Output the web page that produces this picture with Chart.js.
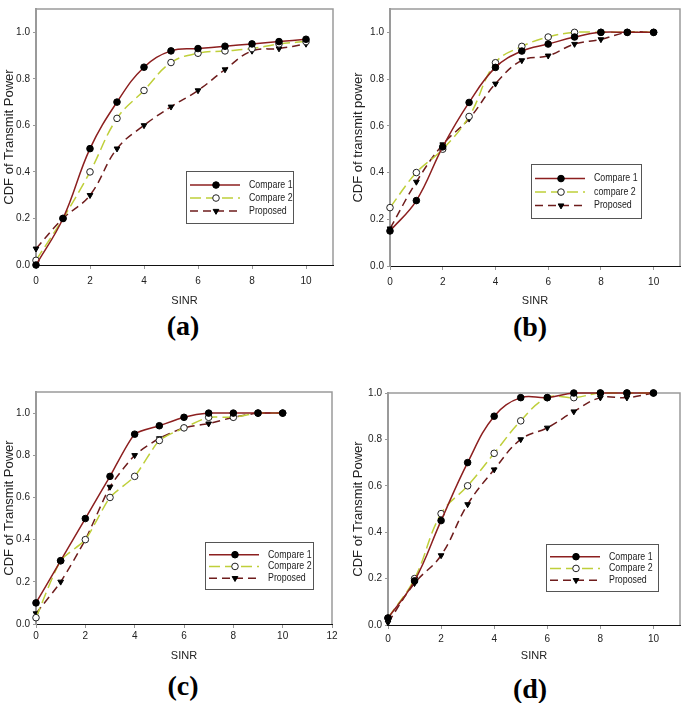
<!DOCTYPE html>
<html>
<head>
<meta charset="utf-8">
<script src="https://cdn.jsdelivr.net/npm/chart.js@4"></script>
<style>
body { margin: 0; background: #fff; width: 685px; height: 703px; position: relative; overflow: hidden; }
canvas { position: absolute; }
.cap { position: absolute; font: bold 28px 'Liberation Serif', 'Times New Roman', serif; color: #000; transform: translate(-50%, -50%); line-height: 1; }
</style>
</head>
<body>
<canvas id="ca" width="340" height="310" style="left:0;top:0"></canvas>
<canvas id="cb" width="340" height="310" style="left:345px;top:0"></canvas>
<canvas id="cc" width="340" height="305" style="left:0;top:360px"></canvas>
<canvas id="cd" width="340" height="305" style="left:345px;top:360px"></canvas>
<div class="cap" style="left:183px;top:326px">(a)</div>
<div class="cap" style="left:530px;top:327px">(b)</div>
<div class="cap" style="left:183px;top:686px">(c)</div>
<div class="cap" style="left:530px;top:689px">(d)</div>
<script>
// SINR points, same for all four panels
var sinr = [0, 1, 2, 3, 4, 5, 6, 7, 8, 9, 10];
var yTicks = [0, 0.2, 0.4, 0.6, 0.8, 1.0];
var xTicks10 = [0, 2, 4, 6, 8, 10];
var xTicks12 = [0, 2, 4, 6, 8, 10, 12];

// (a)
var a_compare1 = [0.00, 0.20, 0.50, 0.70, 0.85, 0.92, 0.93, 0.94, 0.95, 0.96, 0.97];
var a_compare2 = [0.02, 0.20, 0.40, 0.63, 0.75, 0.87, 0.91, 0.92, 0.93, 0.95, 0.96];
var a_proposed = [0.07, 0.20, 0.30, 0.50, 0.60, 0.68, 0.75, 0.84, 0.92, 0.93, 0.95];
// (b)
var b_compare1 = [0.15, 0.28, 0.51, 0.70, 0.85, 0.92, 0.95, 0.98, 1.00, 1.00, 1.00];
var b_compare2 = [0.25, 0.40, 0.50, 0.64, 0.87, 0.94, 0.98, 1.00, 1.00, 1.00, 1.00];
var b_proposed = [0.16, 0.36, 0.52, 0.63, 0.78, 0.88, 0.90, 0.95, 0.97, 1.00, 1.00];
// (c)
var c_compare1 = [0.10, 0.30, 0.50, 0.70, 0.90, 0.94, 0.98, 1.00, 1.00, 1.00, 1.00];
var c_compare2 = [0.03, 0.30, 0.40, 0.60, 0.70, 0.87, 0.93, 0.98, 0.98, 1.00, 1.00];
var c_proposed = [0.05, 0.20, 0.40, 0.65, 0.80, 0.88, 0.93, 0.95, 0.98, 1.00, 1.00];
// (d)
var d_compare1 = [0.03, 0.19, 0.45, 0.70, 0.90, 0.98, 0.98, 1.00, 1.00, 1.00, 1.00];
var d_compare2 = [0.03, 0.20, 0.48, 0.60, 0.74, 0.88, 0.98, 0.98, 1.00, 1.00, 1.00];
var d_proposed = [0.01, 0.18, 0.30, 0.52, 0.67, 0.80, 0.85, 0.92, 0.98, 0.98, 1.00];

var FONT = "'Liberation Sans', Arial, sans-serif";

function pts(vals) {
    return vals.map(function (v, i) { return { x: sinr[i], y: v }; });
}

// gray frame on top and right of the plot
var frame = {
    id: 'frame',
    beforeDatasetsDraw: function (chart) {
        var ctx = chart.ctx, a = chart.chartArea;
        ctx.save();
        ctx.strokeStyle = '#9a9a9a';
        ctx.lineWidth = 1.5;
        ctx.beginPath();
        ctx.moveTo(a.left, a.top);
        ctx.lineTo(a.right, a.top);
        ctx.lineTo(a.right, a.bottom);
        ctx.stroke();
        ctx.restore();
    }
};

// legend box drawn inside the plot, lower right
var boxLegend = {
    id: 'boxLegend',
    afterDatasetsDraw: function (chart, args, o) {
        var ctx = chart.ctx, a = chart.chartArea;
        var x0 = a.right - o.right - o.width, y0 = a.bottom - o.bottom - o.height;
        ctx.save();
        ctx.fillStyle = '#fff';
        ctx.fillRect(x0, y0, o.width, o.height);
        ctx.strokeStyle = '#555';
        ctx.lineWidth = 1;
        ctx.strokeRect(x0 + 0.5, y0 + 0.5, o.width, o.height);
        chart.data.datasets.forEach(function (ds, i) {
            var y = y0 + o.height * (0.27 + 0.25 * i);
            ctx.strokeStyle = ds.borderColor;
            ctx.lineWidth = ds.borderWidth;
            ctx.setLineDash(ds.borderDash || []);
            ctx.beginPath();
            ctx.moveTo(x0 + 4, y);
            ctx.lineTo(x0 + 54, y);
            ctx.stroke();
            ctx.setLineDash([]);
            ctx.fillStyle = ds.pointBackgroundColor;
            ctx.strokeStyle = ds.pointBorderColor;
            ctx.lineWidth = 1;
            Chart.helpers.drawPoint(ctx, { pointStyle: ds.pointStyle, rotation: ds.pointRotation || 0, radius: ds.pointRadius, borderWidth: 1 }, x0 + 30, y);
            // narrow text like the original
            ctx.save();
            ctx.translate(x0 + 63, y);
            ctx.scale(0.84, 1);
            ctx.fillStyle = '#222';
            ctx.font = '10.5px ' + FONT;
            ctx.textBaseline = 'middle';
            ctx.fillText(ds.label, 0, 0);
            ctx.restore();
        });
        ctx.restore();
    }
};

function makeChart(p) {
    var styles = [
        { borderColor: '#8c1f1f', borderDash: [], pointStyle: 'circle', pointRotation: 0, pointBackgroundColor: '#000', pointBorderColor: '#000' },
        { borderColor: '#bfcf3a', borderDash: [11, 5], pointStyle: 'circle', pointRotation: 0, pointBackgroundColor: '#fff', pointBorderColor: '#222' },
        { borderColor: '#6e1c1c', borderDash: [8, 5], pointStyle: 'triangle', pointRotation: 180, pointBackgroundColor: '#000', pointBorderColor: '#000' }
    ];
    var datasets = p.series.map(function (vals, i) {
        var s = styles[i];
        return {
            label: p.names[i],
            data: pts(vals),
            borderColor: s.borderColor,
            borderWidth: 1.5,
            borderDash: s.borderDash,
            pointStyle: s.pointStyle,
            pointRotation: s.pointRotation,
            pointRadius: 3.3,
            pointBorderWidth: 1,
            pointBackgroundColor: s.pointBackgroundColor,
            pointBorderColor: s.pointBorderColor,
            tension: p.tension,
            clip: false
        };
    });
    return new Chart(document.getElementById(p.id), {
        type: 'line',
        data: { datasets: datasets },
        plugins: [frame, boxLegend],
        options: {
            responsive: false,
            animation: false,
            layout: { padding: p.pad },
            plugins: {
                legend: { display: false },
                tooltip: { enabled: false },
                boxLegend: p.legend
            },
            scales: {
                x: {
                    type: 'linear',
                    min: 0,
                    max: p.xMax,
                    afterBuildTicks: function (s) { s.ticks = p.xTicks.map(function (v) { return { value: v }; }); },
                    afterFit: function (s) { s.height = p.xH; },
                    grid: { drawOnChartArea: false, tickLength: 4, color: '#999' },
                    border: { color: '#111', width: 1 },
                    ticks: { color: '#222', padding: p.xPad, font: { family: FONT, size: 10 }, maxRotation: 0 },
                    title: { display: true, text: 'SINR', color: '#222', font: { family: FONT, size: 11 }, padding: { top: 0, bottom: p.tPad } }
                },
                y: {
                    min: 0,
                    max: p.yMax,
                    afterBuildTicks: function (s) { s.ticks = yTicks.map(function (v) { return { value: v }; }); },
                    afterFit: function (s) { s.width = p.yW; },
                    grid: { drawOnChartArea: false, tickLength: 3, color: '#999' },
                    border: { color: '#9a9a9a', width: 2 },
                    ticks: { color: '#222', padding: 3, font: { family: FONT, size: 10 }, callback: function (v) { return v.toFixed(1); } },
                    title: { display: true, text: p.yTitle, color: '#222', font: { family: FONT, size: 13 }, padding: { top: p.yTPad, bottom: 0 } }
                }
            }
        }
    });
}

makeChart({ id: 'ca', yTitle: 'CDF of Transmit Power', names: ['Compare 1', 'Compare 2', 'Proposed'],
    series: [a_compare1, a_compare2, a_proposed], xMax: 11, yMax: 1.1, xTicks: xTicks10, tension: 0.4,
    pad: { top: 2, right: 7, left: 0, bottom: 0 }, yW: 36, xH: 45, xPad: 6, tPad: 2, yTPad: 2,
    legend: { right: 40, bottom: 42, width: 107, height: 52 } });

makeChart({ id: 'cb', yTitle: 'CDF of transmit power', names: ['Compare 1', 'compare 2', 'Proposed'],
    series: [b_compare1, b_compare2, b_proposed], xMax: 11, yMax: 1.1, xTicks: xTicks10, tension: 0.4,
    pad: { top: 0, right: 3, left: 0, bottom: 0 }, yW: 45, xH: 44, xPad: 6, tPad: 2, yTPad: 6,
    legend: { right: 39, bottom: 48, width: 110, height: 54 } });

makeChart({ id: 'cc', yTitle: 'CDF of Transmit Power', names: ['Compare 1', 'Compare 2', 'Proposed'],
    series: [c_compare1, c_compare2, c_proposed], xMax: 12, yMax: 1.1, xTicks: xTicks12, tension: 0.2,
    pad: { top: 32, right: 8, left: 0, bottom: 0 }, yW: 36, xH: 41, xPad: 2, tPad: 2, yTPad: 2,
    legend: { right: 19, bottom: 35, width: 108, height: 47 } });

makeChart({ id: 'cd', yTitle: 'CDF of Transmit Power', names: ['Compare 1', 'Compare 2', 'Proposed'],
    series: [d_compare1, d_compare2, d_proposed], xMax: 11, yMax: 1.0, xTicks: xTicks10, tension: 0.4,
    pad: { top: 33, right: 2, left: 0, bottom: 0 }, yW: 43, xH: 40, xPad: 4, tPad: 2, yTPad: 6,
    legend: { right: 22, bottom: 34, width: 112, height: 47 } });
</script>
</body>
</html>
